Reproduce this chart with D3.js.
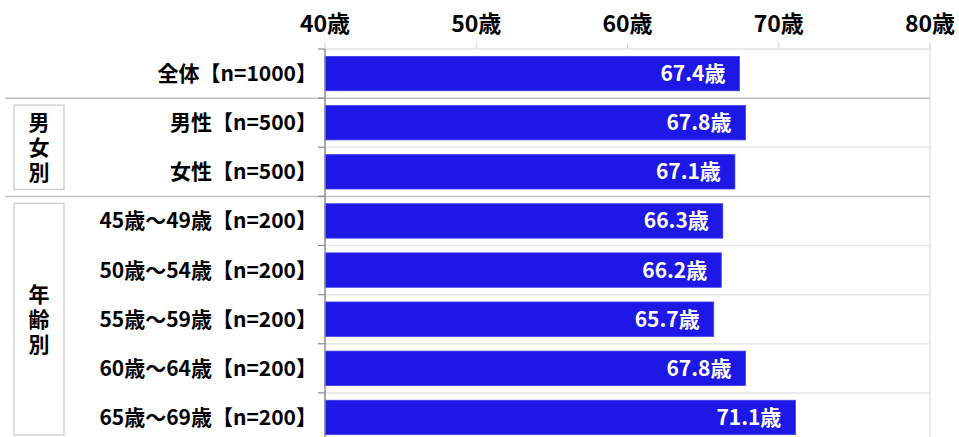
<!DOCTYPE html>
<html><head><meta charset="utf-8">
<script src="https://cdn.jsdelivr.net/npm/d3@7"></script>
<style>
html,body{margin:0;padding:0;background:#fff;}
svg{display:block;}
text{font-family:"Noto Sans CJK JP","Noto Sans",sans-serif;}
</style></head>
<body>
<svg id="chart" width="959" height="437"></svg>
<script>
const categories = ["全体【n=1000】","男性【n=500】","女性【n=500】","45歳～49歳【n=200】","50歳～54歳【n=200】","55歳～59歳【n=200】","60歳～64歳【n=200】","65歳～69歳【n=200】"];
const values = [67.4, 67.8, 67.1, 66.3, 66.2, 65.7, 67.8, 71.1];
const xTicks = [40, 50, 60, 70, 80];
const groupNames = ["男女別", "年齢別"];
const groupStart = [1, 3];
const groupEnd = [2, 7];

const svg = d3.select("#chart");
const x = d3.scaleLinear().domain([40, 80]).range([325, 930]);
const y = d3.scaleBand().domain(categories).range([49, 442]).paddingInner(0.3).paddingOuter(0.15);
const step = y.step();
const boundary = i => 49 + i * step;

// top ticks
svg.selectAll(".xt").data(xTicks).join("line")
  .attr("x1", d => x(d)).attr("x2", d => x(d)).attr("y1", 43).attr("y2", 49)
  .attr("stroke", "#d0d0d0").attr("stroke-width", 1);
svg.selectAll(".xl").data(xTicks).join("text")
  .attr("x", d => x(d)).attr("y", 32).attr("text-anchor", "middle")
  .attr("font-size", 23).attr("font-weight", "bold").attr("fill", "#000")
  .text(d => d + "歳");

// top border & right border
svg.append("line").attr("x1", x(40)).attr("x2", x(80)).attr("y1", 49).attr("y2", 49)
  .attr("stroke", "#e3e3e3").attr("stroke-width", 1.5);
svg.append("line").attr("x1", x(80)).attr("x2", x(80)).attr("y1", 43).attr("y2", 442)
  .attr("stroke", "#e3e3e3").attr("stroke-width", 1.5);

// row separators
const seps = d3.range(1, categories.length);
svg.selectAll(".sep").data(seps).join("line")
  .attr("x1", i => groupStart.includes(i) ? 5 : x(40)).attr("x2", x(80))
  .attr("y1", i => boundary(i)).attr("y2", i => boundary(i))
  .attr("stroke", i => groupStart.includes(i) ? "#c0c0c0" : "#e6e6e6")
  .attr("stroke-width", 1.5);

// bars
svg.selectAll(".bar").data(values).join("rect")
  .attr("x", x(40)).attr("y", (d, i) => y(categories[i]))
  .attr("width", d => x(d) - x(40)).attr("height", y.bandwidth())
  .attr("fill", "#1d18e6").attr("stroke", "#3c3cec").attr("stroke-width", 0.8);

// y axis
svg.append("line").attr("x1", x(40)).attr("x2", x(40)).attr("y1", 49).attr("y2", 442)
  .attr("stroke", "#8c8c8c").attr("stroke-width", 1.5);
svg.selectAll(".yt").data(d3.range(0, categories.length + 1)).join("line")
  .attr("x1", 318).attr("x2", x(40)).attr("y1", i => boundary(i)).attr("y2", i => boundary(i))
  .attr("stroke", "#8c8c8c").attr("stroke-width", 1.2);

// value labels
svg.selectAll(".vl").data(values).join("text")
  .attr("x", d => x(d) - 14).attr("y", (d, i) => y(categories[i]) + y.bandwidth() / 2)
  .attr("dy", "0.36em").attr("text-anchor", "end")
  .attr("font-size", 21).attr("font-weight", "bold").attr("fill", "#fff")
  .text(d => d.toFixed(1) + "歳");

// category labels
svg.selectAll(".cl").data(categories).join("text")
  .attr("x", 317).attr("y", d => y(d) + y.bandwidth() / 2)
  .attr("dy", "0.36em").attr("text-anchor", "end")
  .attr("font-size", 21).attr("font-weight", "bold").attr("fill", "#000")
  .text(d => d);

// group boxes
groupNames.forEach((name, g) => {
  const top = boundary(groupStart[g]) + 7;
  const bot = boundary(groupEnd[g] + 1) - 7;
  svg.append("rect").attr("x", 14).attr("y", top).attr("width", 50).attr("height", bot - top)
    .attr("fill", "none").attr("stroke", "#c8c8c8").attr("stroke-width", 1.2);
  svg.append("text")
    .attr("x", 39).attr("y", (top + bot) / 2 + 2)
    .style("writing-mode", "vertical-rl")
    .attr("text-anchor", "middle")
    .style("letter-spacing", "4px")
    .attr("font-size", 21).attr("font-weight", "bold").attr("fill", "#000")
    .text(name);
});
</script>
</body></html>
